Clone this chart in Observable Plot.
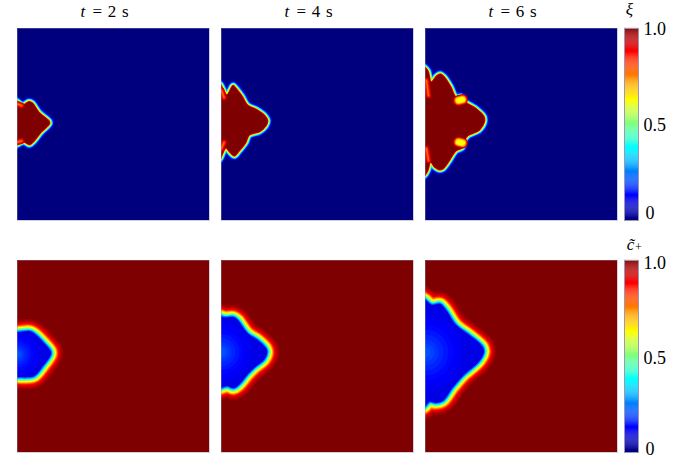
<!DOCTYPE html>
<html><head><meta charset="utf-8">
<script src="https://cdn.jsdelivr.net/npm/d3@7"></script>
<script src="https://cdn.jsdelivr.net/npm/@observablehq/plot@0.6"></script>
<style>
html,body{margin:0;padding:0;background:#fff}
#w{position:relative;width:700px;height:461px;overflow:hidden}
#w svg{position:absolute;top:0;display:block;background:transparent}
</style></head><body><div id="w"></div>
<script>
// Jet colour map stops
const jetStops = [0, 0.11, 0.125, 0.375, 0.5, 0.625, 0.875, 1];
const jetColors = ["#00007f", "#0000f0", "#0000ff", "#00ffff", "#7fff7f", "#ffff00", "#ff0000", "#7f0000"];
const times = [2, 4, 6];
const rows = ["xi", "c"];
const tickValues = [1, 0.5, 0];
const tickLabels = ["1.0", "0.5", "0"];

// Interface outlines (domain units across a 192-cell panel)
const xi2 = [[-15,60],[0.3,71],[5.7,74.5],[11.3,71.3],[16.3,73.3],[23,82.7],[33,91.3],[33.7,96],[24.7,105.3],[18,113.7],[12.3,118],[6.3,115.3],[0.3,118],[-15,130]];
const xi4 = [[-15,48],[-0.3,54],[2.3,58],[5,64.7],[9,57],[12.3,55.3],[17.3,60.3],[22.3,67],[27.3,75.3],[35.7,79.3],[44,85.3],[48,92],[45.7,98.7],[39,104.7],[29,108],[25.7,115.3],[19,123.7],[13,129.3],[7.3,125.3],[5,121.3],[2.3,127],[-0.3,132],[-15,140]];
const xi6 = [[-15,30],[0,37],[4.3,42],[6.7,52],[10,46],[15,43.7],[20,47],[26.7,57],[31.7,67],[36.7,66.3],[41,72],[51.7,78.7],[60,87],[60.7,93.7],[55,103],[43.3,108.7],[41,112],[38.3,120.3],[31.7,123.7],[25,133.7],[18.3,142],[13.3,143],[8.3,140.3],[5.7,135.3],[4.3,142],[0,148.7],[-15,156]];
const c2 = [[-15,70],[0.3,70],[13,69.3],[19.7,73.3],[28,81.7],[34.7,90],[34.7,95],[28,105],[18,116.7],[11.3,118.3],[0.3,118.3],[-15,118]];
const c4 = [[-15,52],[-1,54],[4,55.3],[12.3,55],[17.3,58.3],[27.3,71.7],[37.3,78.3],[45.7,86.7],[47.3,91.7],[44,100],[34,108.3],[27.3,115],[19,125],[12.3,129.3],[5.7,127.3],[-1,129.3],[-15,132]];
const c6 = [[-15,32],[-1,36.7],[6.7,42.7],[15,41.7],[21.7,48.3],[31.7,63.3],[45,73.3],[58.3,85],[60,91.7],[55,101.7],[38.3,116.7],[28.3,128.3],[18.3,141.7],[10,144],[5,142.7],[-1,148.3],[-15,152]];

// Lighter patches left inside the xi interface
const xi2Patches = [[[0,75.5],[4,77]], [[0,113.5],[4,112.5]]];
const xi4Patches = [[[0,62],[2.5,69]], [[0,120],[2.5,114]]];
const xi6Patches = [[[1,52],[3,67]], [[1,120],[3,132]]];
const xi6Bumps = [[[33,72],[37,71]], [[33,113.5],[37,114.5]]];

// Bands outward from the interface: field value and offset
const xiBands = [[0.07,4.6],[0.125,3.8],[0.25,3.2],[0.375,2.6],[0.5,2],[0.625,1.4],[0.875,0.7]];
const cBands = [[0.97,12],[0.94,10.2],[0.91,9],[0.875,7.8],[0.8,6.8],[0.7,5.8],[0.625,4.8],[0.5,3.5],[0.375,2.2],[0.25,1.2]];
const patchBands = [[0.95,6],[0.9,4.5],[0.85,3],[0.78,1.5]];
const bumpBands = [[0.95,11],[0.875,9.5],[0.78,8],[0.68,6.5],[0.625,5]];
const cCentreY = [94, 91.5, 92];
const cCentreR = [[0.112,22,30,38],[0.12,19,26,33],[0.13,16,22,28],[0.145,13,18,23],[0.16,10,14,18],[0.175,7,10,13],[0.19,5,7,9],[0.205,3,4,5]];

const outlines = {xi:[xi2,xi4,xi6], c:[c2,c4,c6]};
const S = 192;
const rowOf = (pts, t, row) => pts.map(([x,y]) => ({x,y,t,row}));
// Pull an outline inward along its normals so the colour bands straddle the read contour
const inset = (pts, d) => pts.map((p,i) => {
  const a = pts[Math.max(0,i-1)], b = pts[Math.min(pts.length-1,i+1)];
  const nx = a[1]-b[1], ny = b[0]-a[0], n = Math.hypot(nx,ny)||1;
  return [p[0]+d*nx/n, p[1]+d*ny/n];
});
const marks = [];

marks.push(Plot.rect(rows.flatMap(row => times.map(t => ({row,t,v:row==="xi"?0:1}))), {
  x1:()=>0, x2:()=>S, y1:()=>0, y2:()=>S, fx:"t", fy:"row", fill:"v"
}));

const closed = (data, v, w) => Plot.line(data, {
  x:"x", y:"y", fx:"t", fy:"row", stroke:()=>v, fill:()=>v, strokeWidth:w,
  curve:"catmull-rom-closed", clip:"frame", strokeLinejoin:"round"
});
const patch = (seg, bands) => bands.forEach(([v,w]) => marks.push(Plot.line(seg, {
  x:"x",y:"y",fx:"t",fy:"row",stroke:()=>v,strokeWidth:w,strokeLinecap:"round",clip:"frame"
})));

times.forEach((t,i) => {
  const a = rowOf(inset(outlines.xi[i], 1.8), t, "xi");
  xiBands.forEach(([v,d]) => marks.push(closed(a, v, 2*d)));
  marks.push(closed(a, 1, 0));
  [xi2Patches,xi4Patches,xi6Patches][i].forEach(p => patch(rowOf(p, t, "xi"), patchBands));
  if (i === 2) xi6Bumps.forEach(p => patch(rowOf(p, t, "xi"), bumpBands));
  const b = rowOf(inset(outlines.c[i], 1.5), t, "c");
  cBands.forEach(([v,d]) => marks.push(closed(b, v, 2*d)));
  marks.push(closed(b, 0.1, 0));
  cCentreR.forEach(l => marks.push(Plot.dot([{x:0,y:cCentreY[i],t,row:"c",v:l[0]}], {
    x:"x",y:"y",fx:"t",fy:"row",fill:"v",r:l[i+1],clip:"frame"
  })));
});

marks.push(Plot.frame({stroke:"#8c8ca8",strokeOpacity:0.4,strokeWidth:1}));

// Titles
const titleFont = {fontFamily:"Liberation Serif",fontSize:17,fill:"#000",textAnchor:"start",lineAnchor:"bottom",clip:false};
const titleRows = times.map(t => ({t,row:"xi",x:63,x2:75,y:-11.3}));
marks.push(Plot.text(titleRows,{...titleFont,x:"x",y:"y",fx:"t",fy:"row",text:()=>"t",fontStyle:"italic"}));
marks.push(Plot.text(titleRows,{...titleFont,x:"x2",y:"y",fx:"t",fy:"row",text:d=>`=\u2004${d.t}\u2004s`}));

const color = {type:"linear",domain:jetStops,range:jetColors,interpolate:"rgb",clamp:true};

const main = Plot.plot({
  width:700,height:461,marginLeft:17,marginRight:83,marginTop:28,marginBottom:9,
  x:{domain:[0,S],axis:null},
  y:{domain:[S,0],axis:null},
  fx:{domain:times,axis:null,paddingInner:12/204,paddingOuter:0,round:false},
  fy:{domain:rows,axis:null,paddingInner:40/232,paddingOuter:0,round:false},
  color,
  marks
});
main.style.left="0px";
document.getElementById("w").appendChild(main);

// Colour bars
const ramp = rows.flatMap(row => d3.range(0,1,0.005).map(v => ({row,v})));
const barMarks = [
  Plot.rect(ramp,{x1:()=>0,x2:()=>1,y1:"v",y2:d=>d.v+0.0055,fy:"row",fill:"v"}),
  Plot.frame({stroke:"#9c98b4",strokeWidth:1})
];
const labelShift = {xi:[1,1,-7], c:[3,2,-3]};
rows.forEach(row => tickValues.forEach((tv,i) => {
  barMarks.push(Plot.text([{row,tv,label:tickLabels[i]}],{
    x:()=>1,y:"tv",fy:"row",text:"label",dx:tv===0?7:5,dy:labelShift[row][i],textAnchor:"start",
    fontFamily:"Liberation Serif",fontSize:18,fill:"#000"
  }));
}));
barMarks.push(Plot.text([{row:"xi"}],{fy:"row",frameAnchor:"top",text:()=>"ξ",dx:-2,dy:-14,lineAnchor:"bottom",fontFamily:"Liberation Serif",fontStyle:"italic",fontSize:17,fill:"#000"}));
barMarks.push(Plot.text([{row:"c"}],{fy:"row",frameAnchor:"top",text:()=>"c\u0303",dx:-1,dy:-11,lineAnchor:"bottom",fontFamily:"Liberation Serif",fontStyle:"italic",fontSize:17,fill:"#000"}));
barMarks.push(Plot.text([{row:"c"}],{fy:"row",frameAnchor:"top",text:()=>"+",dx:7,dy:-10,lineAnchor:"bottom",fontFamily:"Liberation Serif",fontSize:12,fill:"#000"}));

const bar = Plot.plot({
  width:83,height:461,marginLeft:7,marginRight:62,marginTop:28,marginBottom:9,
  x:{domain:[0,1],axis:null},
  y:{domain:[0,1],axis:null},
  fy:{domain:rows,axis:null,paddingInner:40/232,paddingOuter:0,round:false},
  color,
  marks:barMarks
});
bar.style.left="617px";
document.getElementById("w").appendChild(bar);
</script></body></html>
